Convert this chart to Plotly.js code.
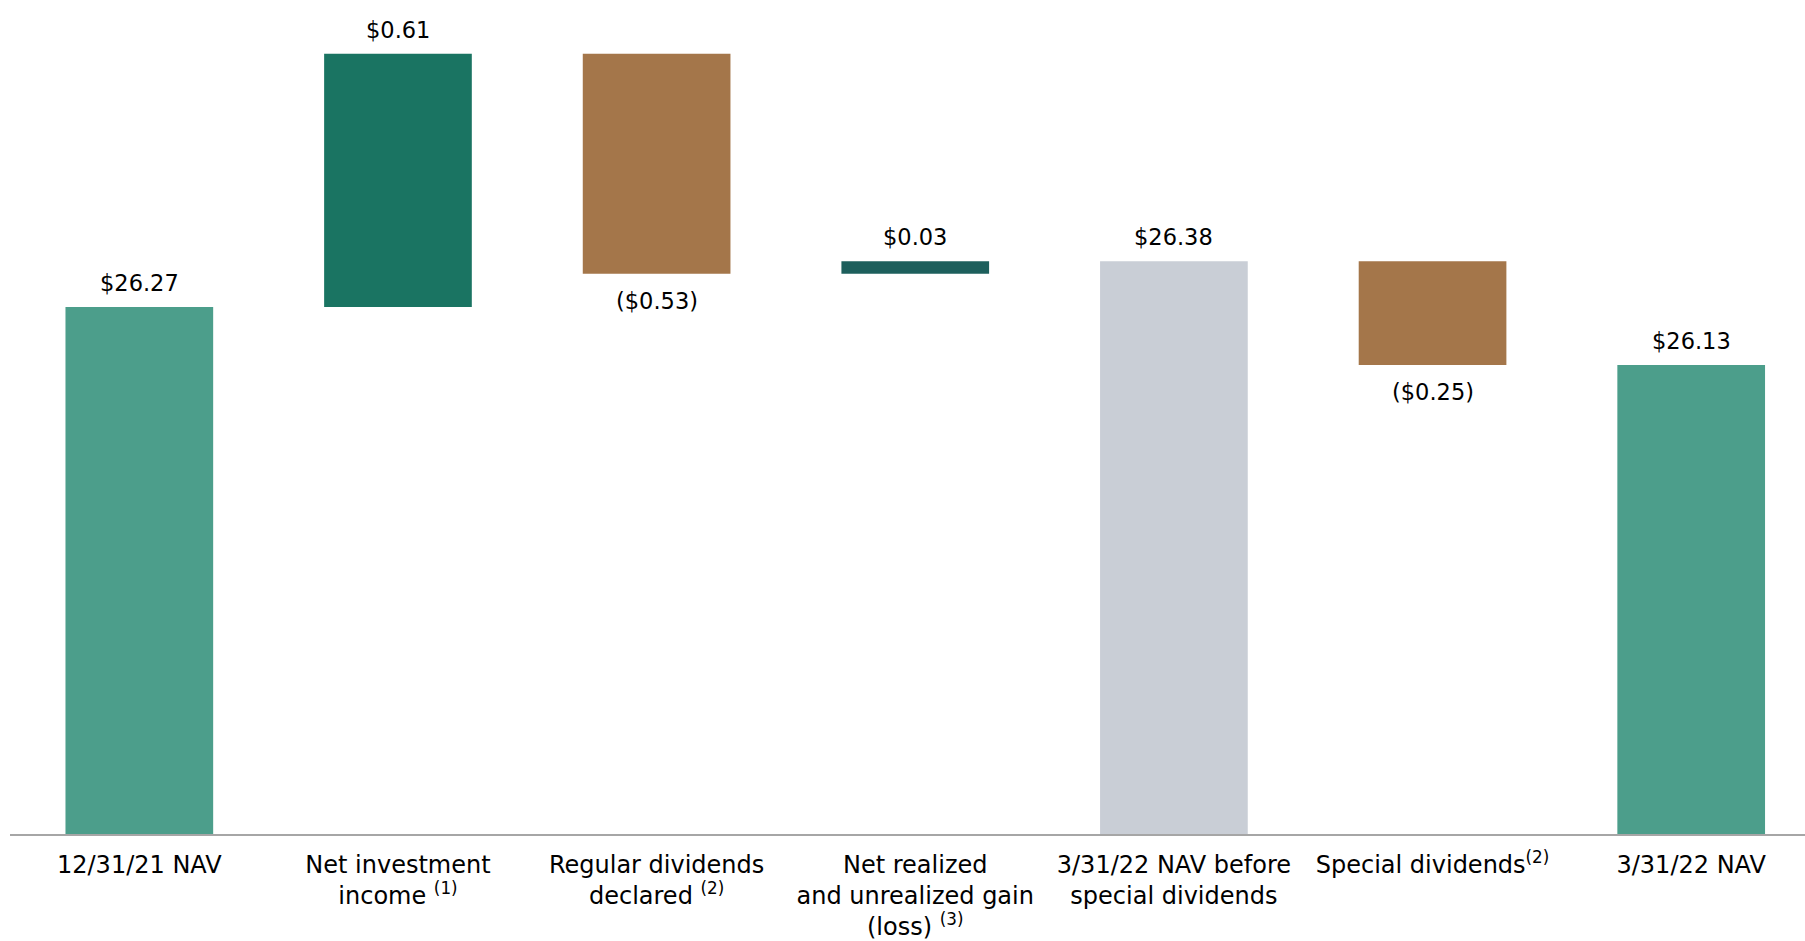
<!DOCTYPE html>
<html>
<head>
<meta charset="utf-8">
<script src="https://cdn.plot.ly/plotly-3.0.1.min.js"></script>
<style>html,body{margin:0;padding:0;background:#fff;}#chart{width:1805px;height:941px;}</style>
</head>
<body>
<div id="chart"></div>
<script>
// ---- data ----
const categories = [
  "12/31/21 NAV",
  "Net investment<br>income <sup>(1)</sup>",
  "Regular dividends<br>declared <sup>(2)</sup>",
  "Net realized<br>and unrealized gain<br>(loss) <sup>(3)</sup>",
  "3/31/22 NAV before<br>special dividends",
  "Special dividends<sup>(2)</sup>",
  "3/31/22 NAV"
];
const measures = ["absolute", "relative", "relative", "relative", "total", "relative", "total"];
const values = [26.27, 0.61, -0.53, 0.03, 26.38, -0.25, 26.13];

// ---- style ----
const barColors = ["#4C9E8B", "#1A7462", "#A4764A", "#1D5F5C", "#C9CED6", "#A4764A", "#4C9E8B"];
const axisMin = 25.0, axisMax = 27.0;

// build bars (base + length) from the values
const bases = [], lengths = [], tops = [], bottoms = [];
let running = 0;
values.forEach((v, i) => {
  if (measures[i] === "relative") {
    bases.push(running);
    lengths.push(v);
    running += v;
  } else {
    bases.push(0);
    lengths.push(v);
    running = v;
  }
  const a = bases[i], b = bases[i] + lengths[i];
  tops.push(Math.max(a, b));
  bottoms.push(Math.min(a, b));
});

function fmt(v) {
  const s = "$" + Math.abs(v).toFixed(2);
  return v < 0 ? "(" + s + ")" : s;
}

const trace = {
  type: "bar",
  x: categories,
  y: lengths,
  base: bases,
  width: 0.571,
  marker: { color: barColors, line: { width: 0 } },
  hoverinfo: "skip"
};

const annotations = values.map((v, i) => {
  const neg = v < 0;
  return {
    x: categories[i],
    y: neg ? bottoms[i] : tops[i],
    xref: "x", yref: "y",
    text: fmt(v),
    showarrow: false,
    yanchor: neg ? "top" : "bottom",
    yshift: neg ? -12 : 9,
    font: { family: "DejaVu Sans, Verdana, sans-serif", size: 22.5, color: "#000" }
  };
});

const layout = {
  width: 1805, height: 941,
  margin: { l: 10, r: 0, t: 4, b: 107 },
  paper_bgcolor: "#fff", plot_bgcolor: "#fff",
  showlegend: false,
  xaxis: {
    type: "category",
    range: [-0.5, 6.44],
    showline: true, linecolor: "#A6A6A6", linewidth: 2,
    ticks: "", showgrid: false, zeroline: false,
    ticklabelstandoff: 8,
    tickfont: { family: "DejaVu Sans, Verdana, sans-serif", size: 24, color: "#000" },
    fixedrange: true
  },
  yaxis: {
    range: [axisMin, axisMax],
    visible: false, showgrid: false, zeroline: false,
    fixedrange: true
  },
  annotations: annotations,
  font: { family: "DejaVu Sans, Verdana, sans-serif", color: "#000" }
};

Plotly.newPlot("chart", [trace], layout, { displayModeBar: false, staticPlot: true });
</script>
</body>
</html>
